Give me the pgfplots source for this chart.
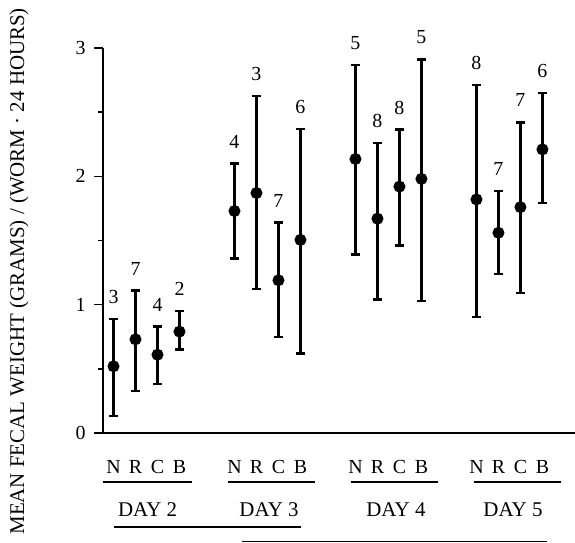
\documentclass[border=0pt]{standalone}
\usepackage{fontspec}
\setmainfont{Liberation Serif}
\usepackage{pgfplots}
\usepackage{pgfplotstable}
\pgfplotsset{compat=1.18}

% x: position (4 per day, day groups 5.5 apart); m: mean; lo/hi: bar ends; n: worms
\pgfplotstableread{
x    m     lo    hi    n
0    0.52  0.135 0.89  3
1    0.73  0.33  1.11  7
2    0.61  0.38  0.83  4
3    0.79  0.65  0.95  2
5.5  1.73  1.36  2.10  4
6.5  1.87  1.12  2.625 3
7.5  1.19  0.75  1.64  7
8.5  1.505 0.62  2.37  6
11   2.135 1.39  2.87  5
12   1.67  1.04  2.26  8
13   1.92  1.46  2.365 8
14   1.98  1.026 2.91  5
16.5 1.82  0.906 2.71  8
17.5 1.56  1.24  1.885 7
18.5 1.76  1.09  2.42  7
19.5 2.21  1.79  2.65  6
}\feces

\begin{document}
\begin{tikzpicture}
\begin{axis}[
    at={(0,0)}, anchor=south west,
    scale only axis,
    width=472bp, height=385bp,
    xmin=-0.477, xmax=20.98,
    ymin=0, ymax=3,
    clip=false,
    axis x line=bottom, axis y line=left,
    axis line style={line width=1.8bp, -},
    ytick={0,1,2,3},
    yticklabels={0,1,2,3},
    minor ytick={0.5,1.5,2.5},
    tick align=outside,
    major tick length=9bp,
    minor tick length=4.5bp,
    every tick/.style={black, line width=1.5bp},
    xtick={0,1,2,3,5.5,6.5,7.5,8.5,11,12,13,14,16.5,17.5,18.5,19.5},
    xticklabels={N,R,C,B,N,R,C,B,N,R,C,B,N,R,C,B},
    xtick style={draw=none},
    xticklabel style={anchor=center, yshift=-25bp, font=\fontsize{20}{22}\selectfont},
    yticklabel style={xshift=-5bp, font=\fontsize{20}{22}\selectfont},
    ylabel={MEAN FECAL WEIGHT (GRAMS) / (WORM · 24 HOURS)},
    ylabel style={at={(axis description cs:-0.178,0.42)}, anchor=center, font=\fontsize{21}{24}\selectfont},
    /pgfplots/error bars/error bar style={line width=2.3bp},
]
\addplot[black, line width=2.3bp, only marks, mark=*, mark size=4.8bp,
    error bars/.cd, y dir=both, y explicit,
    error mark options={rotate=90, mark size=4.5bp, line width=2.3bp}]
  table[x=x, y=m,
        y error plus expr=\thisrow{hi}-\thisrow{m},
        y error minus expr=\thisrow{m}-\thisrow{lo}] {\feces};
\addplot[draw=none, mark=none, nodes near coords, point meta=explicit symbolic,
    every node near coord/.append style={anchor=center, yshift=22bp,
      font=\fontsize{20}{22}\selectfont, black}]
  table[x=x, y=hi, meta=n] {\feces};

% day groupings
\draw[line width=1.6bp] (axis cs:-0.46,-0.383) -- (axis cs:3.58,-0.383);
\draw[line width=1.6bp] (axis cs:5.22,-0.383) -- (axis cs:9.16,-0.383);
\draw[line width=1.6bp] (axis cs:10.78,-0.383) -- (axis cs:14.74,-0.383);
\draw[line width=1.6bp] (axis cs:16.39,-0.383) -- (axis cs:20.34,-0.383);
\node[font=\fontsize{21}{24}\selectfont] at (axis cs:1.55,-0.60) {DAY 2};
\node[font=\fontsize{21}{24}\selectfont] at (axis cs:7.07,-0.60) {DAY 3};
\node[font=\fontsize{21}{24}\selectfont] at (axis cs:12.84,-0.60) {DAY 4};
\node[font=\fontsize{21}{24}\selectfont] at (axis cs:18.16,-0.60) {DAY 5};
\draw[line width=1.6bp] (axis cs:0.02,-0.734) -- (axis cs:8.52,-0.734);
\draw[line width=1.6bp] (axis cs:5.84,-0.845) -- (axis cs:19.7,-0.845);
\end{axis}
\pgfresetboundingbox
\path[use as bounding box] (-103bp,-110bp) rectangle (472bp,433bp);
\end{tikzpicture}
\end{document}
